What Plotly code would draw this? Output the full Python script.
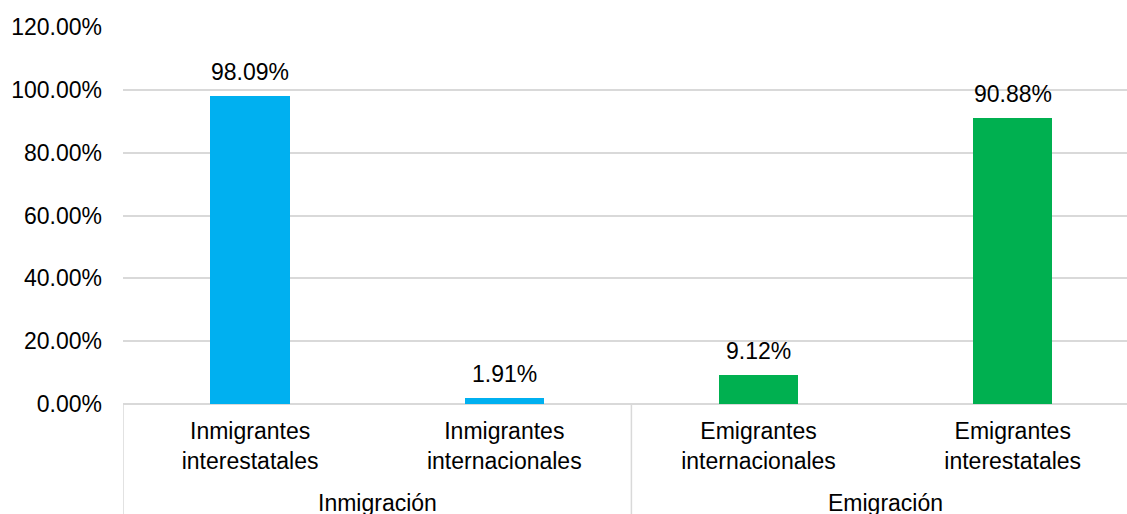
import plotly.graph_objects as go

# Share of migrants by type (percent)
categories = ["Inmigrantes<br>interestatales", "Inmigrantes<br>internacionales",
              "Emigrantes<br>internacionales", "Emigrantes<br>interestatales"]
groups = ["Inmigración", "Emigración"]
values = [98.09, 1.91, 9.12, 90.88]
colors = ["#00B0F0", "#00B0F0", "#00B050", "#00B050"]
y_ticks = [0, 20, 40, 60, 80, 100, 120]

FONT = "Arial, 'Liberation Sans', sans-serif"
FS = 23
xpos = list(range(len(values)))

fig = go.Figure()
fig.add_trace(go.Bar(
    x=xpos, y=values, marker=dict(color=colors, line=dict(width=0)),
    width=0.312, showlegend=False, hoverinfo="skip",
))

# value labels above bars
for xi, v in zip(xpos, values):
    fig.add_annotation(
        x=xi, y=v, xref="x", yref="y", text=f"{v:.2f}%", showarrow=False,
        yanchor="bottom", yshift=9, font=dict(family=FONT, size=FS, color="#000000"),
    )

# group labels under the category labels
for gi, g in enumerate(groups):
    fig.add_annotation(
        x=gi * 2 + 0.5, y=-0.224, xref="x", yref="paper", text=g, showarrow=False,
        yanchor="top", font=dict(family=FONT, size=FS, color="#000000"),
    )

# group divider lines below the axis
for xd in [-0.5, 1.5, 3.5]:
    fig.add_shape(type="line", xref="x", yref="paper", x0=xd, x1=xd, y0=0, y1=-0.35,
                  line=dict(color="#D9D9D9", width=1.5))

fig.update_layout(
    width=1127, height=514,
    margin=dict(l=123, r=0, t=27, b=110),
    paper_bgcolor="white", plot_bgcolor="white",
    font=dict(family=FONT, size=FS, color="#000000"),
    bargap=0,
)
fig.update_xaxes(
    range=[-0.5, 3.4496], tickmode="array", tickvals=xpos, ticktext=categories,
    showgrid=False, zeroline=False, showline=False, ticks="",
    ticklabelstandoff=11, tickfont=dict(family=FONT, size=FS, color="#000000"),
)
fig.update_yaxes(
    range=[0, 120], tickmode="array", tickvals=y_ticks,
    ticktext=[f"{t:.2f}%" for t in y_ticks],
    showgrid=True, gridcolor="#D9D9D9", gridwidth=1.5,
    zeroline=True, zerolinecolor="#D9D9D9", zerolinewidth=1.5,
    showline=False, ticks="", ticklabelstandoff=20,
    tickfont=dict(family=FONT, size=FS, color="#000000"),
)

fig.write_html("out.html")
